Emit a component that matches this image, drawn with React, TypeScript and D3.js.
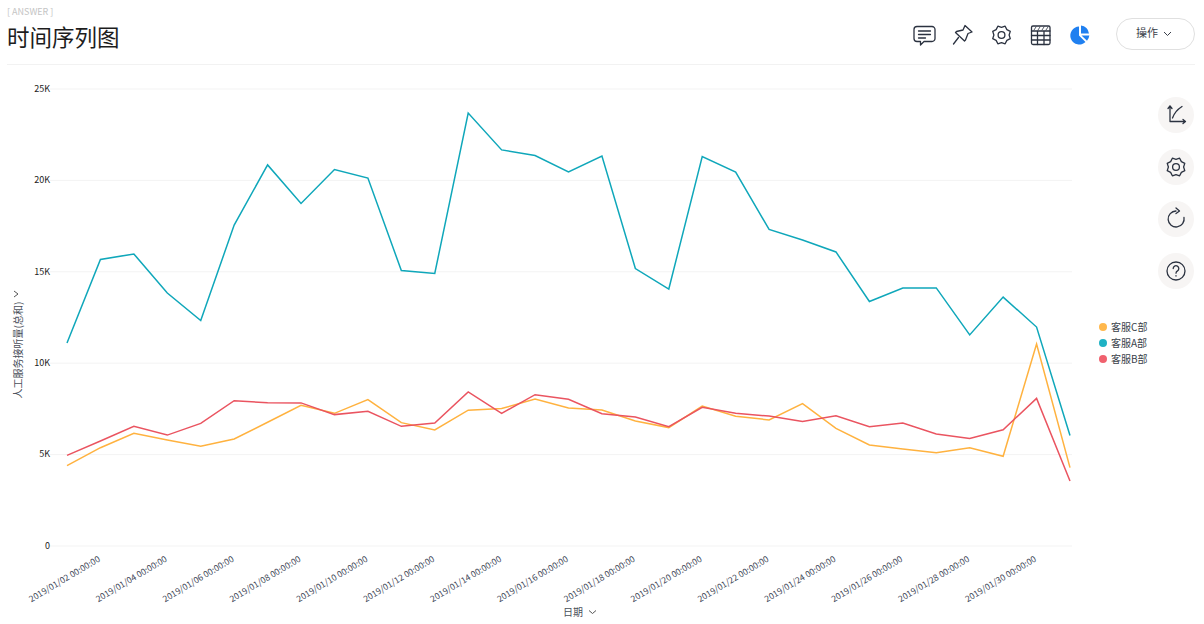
import { useRef, useEffect } from 'react';
import * as d3 from 'd3';

const dates = [
  '2019/01/02 00:00:00', '2019/01/03 00:00:00', '2019/01/04 00:00:00', '2019/01/05 00:00:00',
  '2019/01/06 00:00:00', '2019/01/07 00:00:00', '2019/01/08 00:00:00', '2019/01/09 00:00:00',
  '2019/01/10 00:00:00', '2019/01/11 00:00:00', '2019/01/12 00:00:00', '2019/01/13 00:00:00',
  '2019/01/14 00:00:00', '2019/01/15 00:00:00', '2019/01/16 00:00:00', '2019/01/17 00:00:00',
  '2019/01/18 00:00:00', '2019/01/19 00:00:00', '2019/01/20 00:00:00', '2019/01/21 00:00:00',
  '2019/01/22 00:00:00', '2019/01/23 00:00:00', '2019/01/24 00:00:00', '2019/01/25 00:00:00',
  '2019/01/26 00:00:00', '2019/01/27 00:00:00', '2019/01/28 00:00:00', '2019/01/29 00:00:00',
  '2019/01/30 00:00:00', '2019/01/31 00:00:00', '2019/02/01 00:00:00',
];

const deptA = [
  11080, 15650, 15950, 13810, 12310, 17530, 20820, 18710, 20570, 20100, 15040,
  14880, 23660, 21640, 21330, 20430, 21310, 15150, 14030, 21280, 20430, 17290,
  16710, 16060, 13350, 14090, 14090, 11520, 13590, 11950, 6020,
];
const deptB = [
  4930, 5720, 6520, 6040, 6680, 7920, 7810, 7800, 7160, 7340, 6520,
  6700, 8400, 7230, 8250, 8000, 7210, 7030, 6500, 7560, 7230, 7080,
  6790, 7100, 6500, 6700, 6100, 5860, 6330, 8050, 3530,
];
const deptC = [
  4370, 5350, 6140, 5770, 5430, 5830, 6740, 7670, 7230, 7980, 6720,
  6320, 7400, 7490, 8010, 7520, 7410, 6810, 6450, 7630, 7070, 6870,
  7760, 6410, 5500, 5280, 5080, 5350, 4880, 11020, 4260,
];

const yTicks = [0, 5000, 10000, 15000, 20000, 25000];
const legendNames = ['客服C部', '客服A部', '客服B部'];
const legendColors = ['#ffb84d', '#1fb2c4', '#f0616e'];

const series = [
  { values: deptA, color: '#0fa7ba' },
  { values: deptC, color: '#ffb23f' },
  { values: deptB, color: '#ea5460' },
];

const FONT = '"Noto Sans CJK SC", "Noto Sans", sans-serif';
const INK = '#2b3240';

const Chart = () => {
  const ref = useRef<SVGGElement>(null);

  useEffect(() => {
    const g = d3.select(ref.current);
    g.selectAll('*').remove();

    const x = d3.scalePoint<string>().domain(dates).range([67, 1070]);
    const y = d3.scaleLinear().domain([0, 25000]).range([545.5, 88.5]);

    // grid + y labels
    const yAxis = d3.axisLeft(y)
      .tickValues(yTicks)
      .tickSize(0)
      .tickPadding(0)
      .tickFormat(d => (+d === 0 ? '0' : `${+d / 1000}K`));
    const ya = g.append('g').attr('transform', 'translate(50,0)').call(yAxis);
    ya.select('.domain').remove();
    ya.selectAll('.tick line')
      .attr('x2', 1022)
      .attr('stroke', '#f3f3f3')
      .attr('stroke-width', 1);
    ya.selectAll('.tick text')
      .attr('font-family', FONT)
      .attr('font-size', 9)
      .attr('fill', '#222');

    // x labels, every second date
    const xAxis = d3.axisBottom(x)
      .tickValues(dates.filter((_d, i) => i % 2 === 0 && i < 30))
      .tickSize(0);
    const xa = g.append('g').call(xAxis);
    xa.select('.domain').remove();
    xa.selectAll('.tick').attr('transform', null);
    xa.selectAll<SVGTextElement, string>('.tick text')
      .attr('y', 0)
      .attr('dy', '0.35em')
      .attr('text-anchor', 'middle')
      .attr('transform', d => `translate(${x(d)! - 2.5},579) rotate(-31)`)
      .attr('font-family', FONT)
      .attr('font-size', 8.7)
      .attr('fill', '#3d4656');

    // lines
    const line = d3.line<number>()
      .x((_d, i) => x(dates[i])!)
      .y(d => y(d));
    g.selectAll('path.series')
      .data(series)
      .join('path')
      .attr('class', 'series')
      .attr('fill', 'none')
      .attr('stroke', d => d.color)
      .attr('stroke-width', 1.5)
      .attr('stroke-linejoin', 'miter')
      .attr('d', d => line(d.values));

    // legend
    const lg = g.selectAll('g.legend')
      .data(legendNames)
      .join('g')
      .attr('class', 'legend')
      .attr('transform', (_d, i) => `translate(1103,${327 + i * 16})`);
    lg.append('circle')
      .attr('r', 4)
      .attr('fill', (_d, i) => legendColors[i]);
    lg.append('text')
      .attr('x', 8)
      .attr('dy', '0.35em')
      .attr('font-family', FONT)
      .attr('font-size', 10)
      .attr('fill', '#3a3f4a')
      .text(d => d);
  }, []);

  return <g ref={ref} />;
};

const sideY = [115, 167, 219, 271];

const Gear = ({ cx, cy }: { cx: number; cy: number }) => {
  const pts: string[] = [];
  for (let i = 0; i < 16; i++) {
    const r = i % 2 === 0 ? 9.5 : 7.6;
    const a = (i * Math.PI) / 8 + Math.PI / 8;
    pts.push(`${cx + r * Math.cos(a)},${cy + r * Math.sin(a)}`);
  }
  return (
    <g fill="none" stroke={INK} strokeWidth={1.3}>
      <polygon points={pts.join(' ')} strokeLinejoin="round" />
      <circle cx={cx} cy={cy} r={3.4} />
    </g>
  );
};

const Toolbar = () => (
  <g fill="none" stroke={INK} strokeWidth={1.3} strokeLinecap="round" strokeLinejoin="round">
    {/* comment */}
    <path d="M917 26.500h15a3 3 0 0 1 3 3v9a3 3 0 0 1-3 3h-8l-3.500 3.500v-3.500h-3.500a3 3 0 0 1-3-3v-9a3 3 0 0 1 3-3z" />
    <path d="M918.500 31h12M918.500 34.500h12M918.500 38h7" />
    {/* pin */}
    <path d="M965 25.500l7 6.500-4 1.500-2.500 6.500-1 1-9-8.500 1-1 6.500-1.500z" />
    <path d="M958.500 37.500L953.500 44" />
    <Gear cx={1001.500} cy={35} />
    {/* table */}
    <rect x={1031.500} y={26} width={18.500} height={18.500} rx={1.500} />
    <path d="M1031.500 31h18.500M1031.500 35.500h18.500M1031.500 40h18.500M1037.500 31v13.500M1044 31v13.500" />
    <path d="M1034 30l2-3M1038 30l2-3M1042 30l2-3M1046 30l2-3" strokeWidth={0.8} />
    {/* pie */}
    <path d="M1079 26.500a9 9 0 1 0 6.500 15.500l-6.500-6.500z" fill="#2080f0" stroke="none" />
    <path d="M1081 25.500a9 9 0 0 1 8 8h-8z" fill="#2080f0" stroke="none" />
    <path d="M1081.500 35.500h7.800a9 9 0 0 1-2.300 5.200z" fill="#2080f0" stroke="none" />
  </g>
);

const SideButtons = () => (
  <g>
    {sideY.map(cy => <circle key={cy} cx={1176} cy={cy} r={18} fill="#f7f5f4" />)}
    <g fill="none" stroke={INK} strokeWidth={1.3} strokeLinecap="round" strokeLinejoin="round">
      <path d="M1170 106v15.500h15.500M1168 108.500l2-2.500 2 2.500M1183 119.500l2.500 2-2.500 2" />
      <path d="M1172.500 118c1.500-4.500 4-8 9.500-11.500" />
      <path d="M1184 217.500a8 8 0 1 1-8-6.500M1176 208l3.500 3-3.500 2.500" />
      <circle cx={1176} cy={271} r={9} />
      <path d="M1173.200 268.500a2.800 2.800 0 1 1 4.300 2.400c-1 .6-1.500 1.200-1.500 2.300" />
      <path d="M1176 275.700v.3" />
    </g>
    <Gear cx={1176} cy={167} />
  </g>
);

export default function App() {
  return (
    <svg
      width={1204}
      height={624}
      style={{ position: 'absolute', left: 0, top: 0, background: '#fff' }}
    >
      <text x={7} y={15} fontFamily={FONT} fontSize={9} fill="#c4c4c4">[ ANSWER ]</text>
      <text x={7} y={46} fontFamily={FONT} fontSize={22.5} fill="#1d1d1d">时间序列图</text>
      <line x1={7} x2={1195} y1={64.5} y2={64.5} stroke="#f2f2f2" />

      <Toolbar />
      <rect x={1116.500} y={18.500} width={78} height={31} rx={15.500} fill="#fff" stroke="#e0e0e0" />
      <text x={1136} y={37} fontFamily={FONT} fontSize={11} fill="#3a3f4a">操作</text>
      <path d="M1164 32l3.500 3.500 3.500-3.500" fill="none" stroke="#3a3f4a" />
      <SideButtons />

      <Chart />

      <text
        transform="translate(18,350) rotate(-90)"
        textAnchor="middle"
        dy="0.35em"
        fontFamily={FONT}
        fontSize={10}
        fill="#4a4f5a"
      >
        人工服务接听量(总和)
      </text>
      <path d="M14 291l4 3-4 3" fill="none" stroke="#555" />

      <text x={563} y={616} fontFamily={FONT} fontSize={10} fill="#4a4f5a">日期</text>
      <path d="M589 610.500l3.500 3 3.500-3" fill="none" stroke="#555" />
    </svg>
  );
}
